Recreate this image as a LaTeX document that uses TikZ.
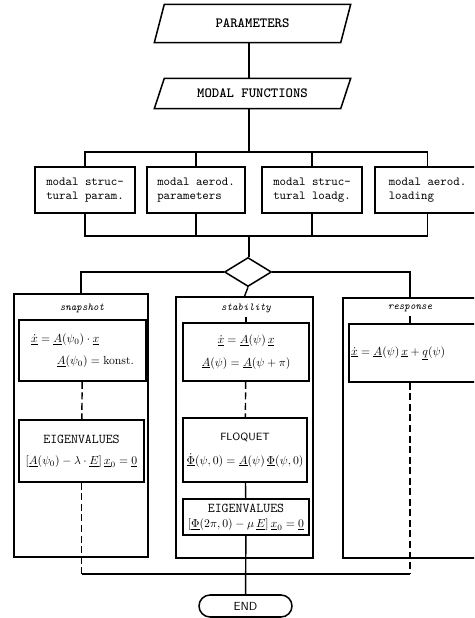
\documentclass[tikz,border=0pt]{standalone}
\usepackage{amsmath}
\usepackage{amssymb}
\usetikzlibrary{positioning,arrows.meta,shapes.geometric,shapes.misc}
\tikzset{
	card/.style={minimum width=5.55cm, inner sep=0pt, font=\fontsize{12}{14}\selectfont\ttfamily\bfseries},
	databox/.style={draw, line width=1.3pt, minimum width=3cm, minimum height=1.38cm, inner sep=1pt, align=left, font=\fontsize{10.5}{11.5}\selectfont\ttfamily},
	casebox/.style={draw, line width=1.2pt},
	stepbox/.style={draw, line width=1.4pt, align=center, inner sep=1pt},
	caselabel/.style={font=\small\ttfamily\itshape},
	dashline/.style={dash pattern=on 6pt off 3pt},
}
\newcommand{\ul}[1]{\underline{#1}}
% slanted outline round a card node
\newcommand{\slant}[1]{\draw[line width=1.3pt] ([xshift=-0.15cm]#1.south west) -- ([xshift=0.15cm]#1.north west) -- ([xshift=0.15cm]#1.north east) -- ([xshift=-0.15cm]#1.south east) -- cycle;}
\begin{document}
\begin{tikzpicture}[x=0.03cm, y=-0.03cm, line width=1.2pt]
	\useasboundingbox (0,0) rectangle (474,618);
	\clip (0,0) rectangle (474,618);

	\coordinate(b1) at (249,152);
	\coordinate(b2) at (249,236);

	\node(P) [card, minimum height=1.11cm] at (252.5,23.5) {PARAMETERS};
	\slant{P}
	\node(M) [card, minimum height=0.87cm] at (252.5,93.5) {MODAL FUNCTIONS};
	\slant{M}
	\draw (P.south -| b1) -- (M.north -| b1);

	% data blocks
	\node(A1) [databox] at (85,190) {modal struc-\\tural param.};
	\node(A2) [databox, minimum width=2.94cm] at (196,190) {modal aerod.\\parameters};
	\node(A3) [databox] at (312,190) {modal struc-\\tural loadg.};
	\node(A4) [databox, minimum width=3.15cm] at (427.5,190) {modal aerod.\\ loading\hspace{1.5em}};

	\draw (M.south -| b1) -- (b1);
	\draw (A1.north) |- (b1) -| (A4.north);
	\draw (A2.north) -- (A2.north |- b1);
	\draw (A3.north) -- (A3.north |- b1);
	\draw (A1.south) |- (b2) -| (A4.south);
	\draw (A2.south) -- (A2.south |- b2);
	\draw (A3.south) -- (A3.south |- b2);

	\node(D) [draw, diamond, line width=1.3pt, minimum width=1.41cm, minimum height=0.87cm, inner sep=0pt] at (248,272) {};
	\draw (b2) -- (D.north -| b2);

	% snapshot
	\node(S) [casebox, minimum width=4.02cm, minimum height=7.89cm] at (81,425.5) {};
	\node(Sl) [caselabel] at (82,308) {snapshot};
	\node(S1) [stepbox, minimum width=3.81cm, minimum height=1.83cm, align=left] at (82.5,350.5)
		{$\ul{\dot x} = \ul{A}(\psi_0)\cdot\ul{x}$\\[7pt]\hspace{2.2em}$\ul{A}(\psi_0) = \text{konst.}$};
	\node(S2) [stepbox, minimum width=3.75cm, minimum height=1.86cm] at (81.5,451)
		{{\fontsize{11.5}{13}\selectfont\ttfamily EIGENVALUES}\\[6pt]$[\ul{A}(\psi_0) - \lambda\cdot\ul{E}]\,\ul{x}_0 = \ul{0}$};

	% stability
	\node(T) [casebox, minimum width=4.11cm, minimum height=7.83cm] at (244.5,427.5) {};
	\node(Tl) [caselabel] at (246,308) {stability};
	\node(T1) [stepbox, minimum width=3.78cm, minimum height=1.74cm] at (246,352)
		{$\ul{\dot x} = \ul{A}(\psi)\,\ul{x}$\\[7pt]$\ul{A}(\psi) = \ul{A}(\psi+\pi)$};
	\node(T2) [stepbox, minimum width=3.72cm, minimum height=1.92cm] at (245,450)
		{{\fontsize{9}{11}\selectfont\sffamily FLOQUET}\\[8pt]$\ul{\dot\Phi}(\psi,0) = \ul{A}(\psi)\,\ul{\Phi}(\psi,0)$};
	\node(T3) [stepbox, minimum width=3.78cm, minimum height=1.08cm] at (246,517)
		{{\fontsize{11.5}{13}\selectfont\ttfamily EIGENVALUES}\\[1pt]$[\ul{\Phi}(2\pi,0) - \mu\,\ul{E}]\,\ul{x}_0 = \ul{0}$};

	% response
	\node(R) [casebox, minimum width=4.71cm, minimum height=7.8cm] at (421.5,428) {};
	\node(Rl) [caselabel] at (410,308) {response};
	\node(R1) [stepbox, minimum width=4.53cm, minimum height=1.74cm, text width=4.4cm, align=left] at (424.5,353)
		{$\ul{\dot x} = \ul{A}(\psi)\,\ul{x} + \ul{q}(\psi)$};

	\draw (D.west) -| (S.north);
	\draw (D.south) -- (T.north);
	\draw (D.east) -| (Rl |- R.north);
	\draw (Tl) -- (T1);
	\draw (Rl) -- (Rl |- R1.north);

	\draw[dashline] (S1) -- (S2);
	\draw[dashline] (T1) -- (T2);
	\draw (T2) -- (T3);

	\node(E) [draw, rounded rectangle, line width=1.3pt, minimum width=2.79cm, minimum height=0.66cm, inner sep=0pt, font=\sffamily] at (245.5,606) {END};

	\coordinate(jm) at (245.5,574);
	\coordinate(jl) at (S2.south |- jm);
	\coordinate(jr) at (410,574);
	\draw[dashline] (S2.south) -- (jl);
	\draw[dashline] (R1.south -| jr) -- (jr);
	\draw (jl) -- (jr);
	\draw (T3) -- (E);
\end{tikzpicture}
\end{document}
